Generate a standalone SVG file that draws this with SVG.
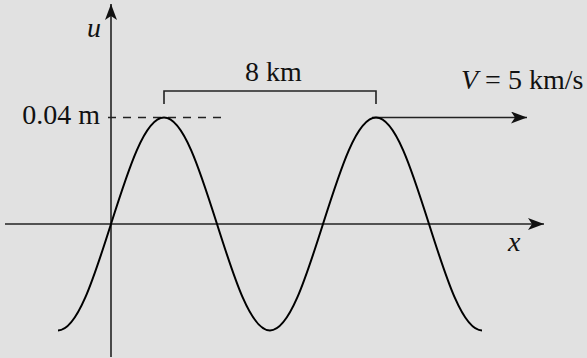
<svg xmlns="http://www.w3.org/2000/svg" width="587" height="358" viewBox="0 0 587 358">
  <style>
    .ax { stroke: #222; stroke-width: 1.6; fill: none; }
    .wave { stroke: #000; stroke-width: 2; fill: none; }
    .lbl { font-family: "Liberation Serif", "Times New Roman", serif; font-size: 28px; fill: #111; }
    .it { font-style: italic; }
  </style>
  <defs>
    <marker id="ah" markerUnits="userSpaceOnUse" markerWidth="20" markerHeight="14" refX="16" refY="6" orient="auto">
      <path d="M16,6 L0,0 L4,6 L0,12 Z" fill="#111"/>
    </marker>
  </defs>
  <rect width="587" height="358" fill="#e1e1e1"/>
  <g id="connectors">
    <line id="u-axis" class="ax" x1="111" y1="357" x2="111" y2="4" marker-end="url(#ah)"/>
    <line id="x-axis" class="ax" x1="5" y1="224" x2="544" y2="224" marker-end="url(#ah)"/>
    <line id="amp-dash" class="ax" x1="108" y1="117.5" x2="226" y2="117.5" stroke-dasharray="8 7"/>
    <polyline id="bracket" class="ax" points="164,104 164,91 376,91 376,104"/>
    <line id="v-arrow" class="ax" x1="372" y1="117.5" x2="527" y2="117.5" marker-end="url(#ah)"/>
  </g>
  <g id="wave">
    <path class="wave" d="M58,330.5 C77.18,330.5 93.71,278.56 111,224 S144.82,117.5 164,117.5 S199.71,169.44 217,224 S250.82,330.5 270,330.5 S305.71,278.56 323,224 S356.82,117.5 376,117.5 S411.71,169.44 429,224 S462.82,330.5 482,330.5"/>
  </g>
  <g id="labels">
    <text class="lbl it" x="87" y="37">u</text>
    <text class="lbl it" x="508" y="251">x</text>
    <text class="lbl" x="100" y="124" text-anchor="end">0.04 m</text>
    <text class="lbl" x="273.5" y="81" text-anchor="middle">8 km</text>
    <text class="lbl" x="461" y="89"><tspan class="it">V</tspan> = 5 km/s</text>
  </g>
</svg>
